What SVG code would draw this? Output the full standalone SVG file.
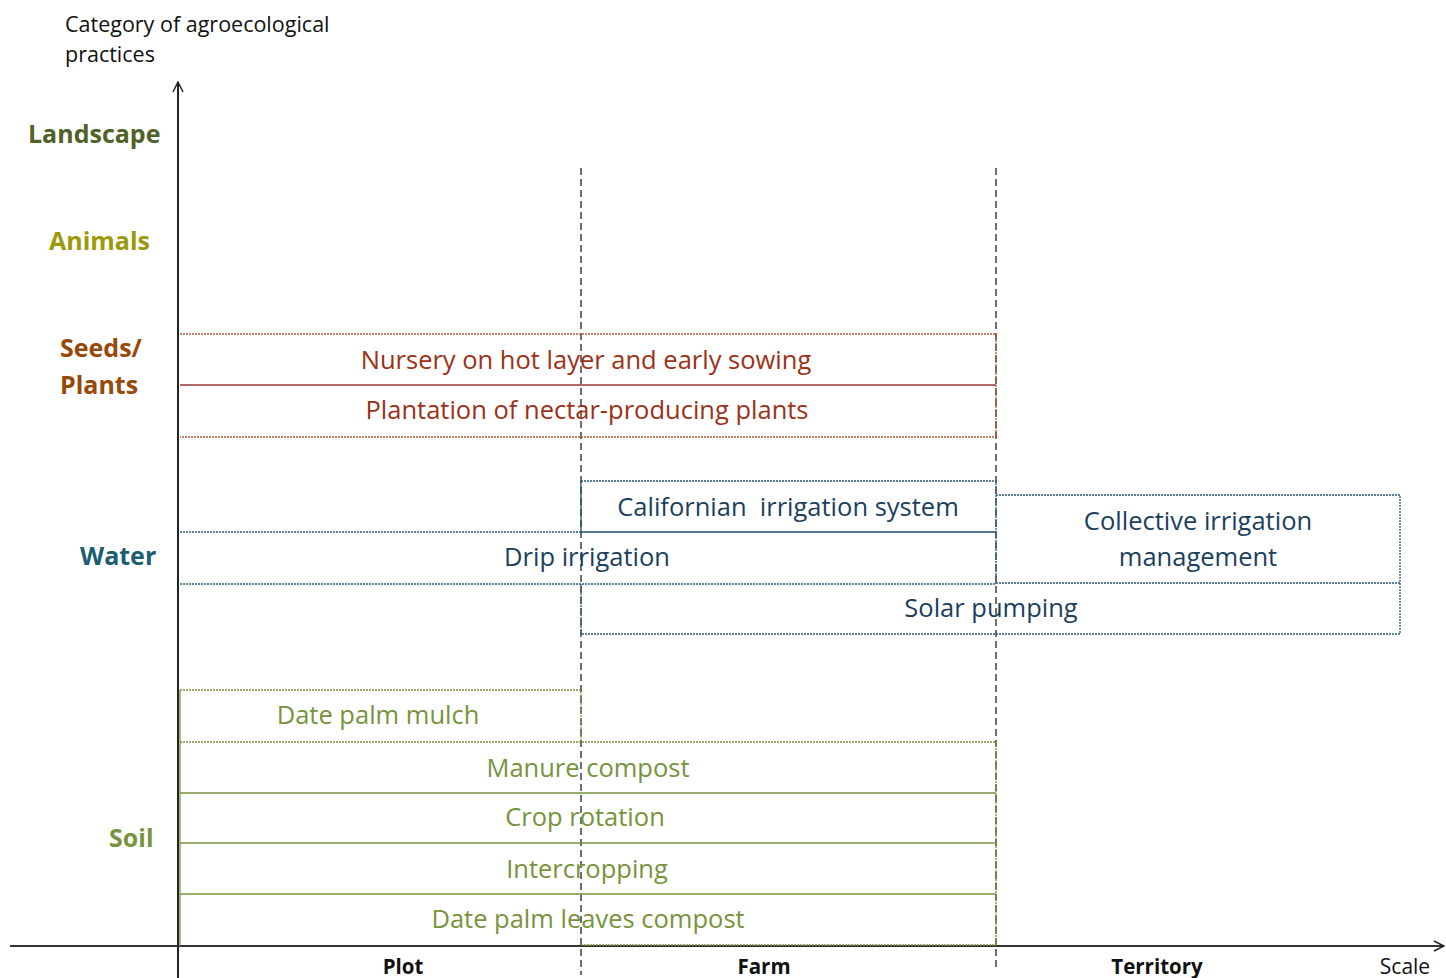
<svg xmlns="http://www.w3.org/2000/svg" width="1446" height="978" viewBox="0 0 1446 978">
<defs>
<style>
.t{font-family:"Open Sans","Liberation Sans",sans-serif;font-size:25.5px;text-anchor:middle}
.cat{font-family:"Open Sans","Liberation Sans",sans-serif;font-size:25px;font-weight:bold}
.ax{font-family:"Open Sans","Liberation Sans",sans-serif;font-size:20.5px;font-weight:bold;text-anchor:middle;fill:#111}
.red{fill:none;stroke:#953735;stroke-width:1.3}
.redd{fill:none;stroke:#B05A3A;stroke-width:1.3;stroke-dasharray:2 1}
.blu{fill:none;stroke:#1F4E6A;stroke-width:1.3}
.blud{fill:none;stroke:#2C5A73;stroke-width:1.3;stroke-dasharray:2 1}
.grn{fill:none;stroke:#77933C;stroke-width:1.3}
.grnd{fill:none;stroke:#77933C;stroke-width:1.3;stroke-dasharray:2 1}
.tr{fill:#9C3118}
.tb{fill:#1B3F5E}
.tg{fill:#77933C}
</style>
<marker id="open" viewBox="0 0 12 12" refX="11" refY="6" markerWidth="12" markerHeight="12" markerUnits="userSpaceOnUse" orient="auto">
<path d="M1,1 L11,6 L1,11" fill="none" stroke="#222" stroke-width="1.5"/>
</marker>
</defs>
<rect width="1446" height="978" fill="#fff"/>

<g id="axes">
<line x1="178" y1="978" x2="178" y2="82" stroke="#222" stroke-width="2" marker-end="url(#open)"/>
<line x1="10" y1="946" x2="1444" y2="946" stroke="#333" stroke-width="2" marker-end="url(#open)"/>
<line x1="581" y1="168" x2="581" y2="975" stroke="#222" stroke-width="1.3" stroke-dasharray="7 4"/>
<line x1="996" y1="168" x2="996" y2="970" stroke="#222" stroke-width="1.3" stroke-dasharray="7 4"/>
<text x="65" y="32" font-family="Open Sans, Liberation Sans, sans-serif" font-size="21.5" fill="#111">Category of agroecological</text>
<text x="65" y="62" font-family="Open Sans, Liberation Sans, sans-serif" font-size="21.5" fill="#111">practices</text>
<text class="ax" x="403" y="974">Plot</text>
<text class="ax" x="764" y="974">Farm</text>
<text class="ax" x="1157" y="974">Territory</text>
<text x="1405" y="974" font-family="Open Sans, Liberation Sans, sans-serif" font-size="21" fill="#111" text-anchor="middle">Scale</text>
</g>

<g id="categories">
<text class="cat" x="28" y="143" fill="#4F6228">Landscape</text>
<text class="cat" x="49" y="250" fill="#9A9A0A">Animals</text>
<text class="cat" x="60" y="357" fill="#984807">Seeds/</text>
<text class="cat" x="60" y="394" fill="#984807">Plants</text>
<text class="cat" x="80" y="565" fill="#1B5E70">Water</text>
<text class="cat" x="109" y="847" fill="#77933C">Soil</text>
</g>

<g id="connectors"></g>

<g id="nursery">
<path class="redd" d="M180,334 H996 V385"/>
<line class="red" x1="180" y1="385" x2="996" y2="385"/>
<text class="t tr" x="586" y="369">Nursery on hot layer and early sowing</text>
</g>
<g id="plantation">
<path class="redd" d="M996,385 V437 H180"/>
<text class="t tr" x="587" y="419">Plantation of nectar-producing plants</text>
</g>

<g id="californian">
<path class="blud" d="M581,481 H996 V532"/>
<line class="blu" x1="581" y1="532" x2="996" y2="532" stroke-width="1.8"/>
<line class="blu" x1="581" y1="481" x2="581" y2="532"/>
<text class="t tb" x="788" y="516" xml:space="preserve">Californian&#160; irrigation system</text>
</g>
<g id="drip">
<path class="blud" d="M180,532 H581"/>
<path class="blud" d="M180,584 H996 V532"/>
<text class="t tb" x="587" y="566">Drip irrigation</text>
</g>
<g id="collective">
<path class="blud" d="M996,495 H1400 V583 H996"/>
<text class="t tb" x="1198" y="530">Collective irrigation</text>
<text class="t tb" x="1198" y="566">management</text>
</g>
<g id="solar">
<path class="blud" d="M581,584 V634 H1400 V583"/>
<text class="t tb" x="991" y="617">Solar pumping</text>
</g>

<g id="mulch">
<path class="grnd" d="M180,690 H581 V742"/>
<line class="grn" x1="180" y1="690" x2="180" y2="946"/>
<text class="t tg" x="378" y="724">Date palm mulch</text>
</g>
<g id="manure">
<path class="grnd" d="M180,742 H996 V793"/>
<text class="t tg" x="588" y="777">Manure compost</text>
</g>
<g id="rotation">
<line class="grn" x1="180" y1="793" x2="996" y2="793"/>
<path class="grnd" d="M996,793 V843"/>
<text class="t tg" x="585" y="826">Crop rotation</text>
</g>
<g id="intercropping">
<line class="grn" x1="180" y1="843" x2="996" y2="843"/>
<path class="grnd" d="M996,843 V894"/>
<text class="t tg" x="587" y="878">Intercropping</text>
</g>
<g id="leaves">
<line class="grn" x1="180" y1="894" x2="996" y2="894"/>
<path class="grnd" d="M581,945 H996 V894"/>
<text class="t tg" x="588" y="928">Date palm leaves compost</text>
</g>
</svg>
